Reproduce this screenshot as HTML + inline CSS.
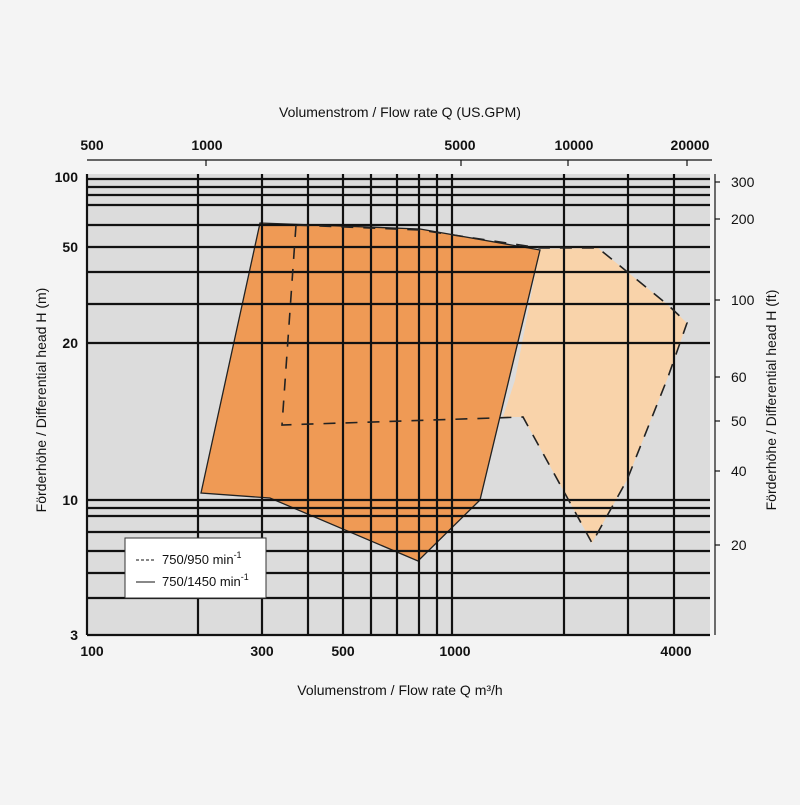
<!DOCTYPE html><html><head><style>body{margin:0;background:#f4f4f4}</style></head><body>
<svg width="800" height="800" xmlns="http://www.w3.org/2000/svg" font-family="Liberation Sans, sans-serif">
<rect width="800" height="800" fill="#f4f4f4"/>
<rect x="87" y="174" width="623" height="461" fill="#dcdcdc"/>
<polygon points="540,249 598,248 668,305 687,323 668,377 627,480 592,543 562,488 523,417 503,417 515,380" fill="#f9d3aa"/>
<polygon points="260,223 420,229 540,250 480,500 418,561 270,498 201,493" fill="#ef9a55" stroke="#222" stroke-width="1.3"/>
<g stroke="#111" stroke-width="2.2">
<line x1="198" y1="174" x2="198" y2="635"/><line x1="262" y1="174" x2="262" y2="635"/><line x1="308" y1="174" x2="308" y2="635"/><line x1="343" y1="174" x2="343" y2="635"/><line x1="371" y1="174" x2="371" y2="635"/><line x1="397" y1="174" x2="397" y2="635"/><line x1="419" y1="174" x2="419" y2="635"/><line x1="437" y1="174" x2="437" y2="635"/><line x1="452" y1="174" x2="452" y2="635"/><line x1="564" y1="174" x2="564" y2="635"/><line x1="628" y1="174" x2="628" y2="635"/><line x1="674" y1="174" x2="674" y2="635"/>
<line x1="87" y1="179" x2="710" y2="179"/><line x1="87" y1="187" x2="710" y2="187"/><line x1="87" y1="195" x2="710" y2="195"/><line x1="87" y1="205" x2="710" y2="205"/><line x1="87" y1="225" x2="710" y2="225"/><line x1="87" y1="247" x2="710" y2="247"/><line x1="87" y1="272" x2="710" y2="272"/><line x1="87" y1="304" x2="710" y2="304"/><line x1="87" y1="343" x2="710" y2="343"/><line x1="87" y1="500" x2="710" y2="500"/><line x1="87" y1="508" x2="710" y2="508"/><line x1="87" y1="516" x2="710" y2="516"/><line x1="87" y1="532" x2="710" y2="532"/><line x1="87" y1="551" x2="710" y2="551"/><line x1="87" y1="573" x2="710" y2="573"/><line x1="87" y1="598" x2="710" y2="598"/>
<line x1="87" y1="635" x2="710" y2="635"/><line x1="87" y1="174" x2="87" y2="635"/>
</g>
<polyline points="296,225 282,425 523,417 562,488 592,543 627,480 668,377 687,323 668,305 598,248 540,248 420,230 296,225" fill="none" stroke="#222" stroke-width="1.6" stroke-dasharray="12,10"/>
<g stroke="#111" stroke-width="1.2">
<line x1="87" y1="160" x2="712" y2="160"/>
<line x1="206" y1="160" x2="206" y2="166"/><line x1="461" y1="160" x2="461" y2="166"/><line x1="568" y1="160" x2="568" y2="166"/><line x1="687" y1="160" x2="687" y2="166"/>
<line x1="715" y1="174" x2="715" y2="635"/>
<line x1="715" y1="182" x2="720" y2="182"/><line x1="715" y1="219" x2="720" y2="219"/><line x1="715" y1="300" x2="720" y2="300"/><line x1="715" y1="377" x2="720" y2="377"/><line x1="715" y1="421" x2="720" y2="421"/><line x1="715" y1="471" x2="720" y2="471"/><line x1="715" y1="545" x2="720" y2="545"/>
</g>
<g font-size="14" fill="#111">
<text x="400" y="117" text-anchor="middle">Volumenstrom / Flow rate Q (US.GPM)</text>
<text x="400" y="695" text-anchor="middle">Volumenstrom / Flow rate Q m³/h</text>
<g font-weight="bold" text-anchor="middle"><text x="92" y="150">500</text><text x="207" y="150">1000</text><text x="460" y="150">5000</text><text x="574" y="150">10000</text><text x="690" y="150">20000</text>
<text x="92" y="656">100</text><text x="262" y="656">300</text><text x="343" y="656">500</text><text x="455" y="656">1000</text><text x="676" y="656">4000</text></g>
<g font-weight="bold" text-anchor="end"><text x="78" y="182">100</text><text x="78" y="252">50</text><text x="78" y="348">20</text><text x="78" y="505">10</text><text x="78" y="640">3</text></g>
<g text-anchor="start"><text x="731" y="187">300</text><text x="731" y="224">200</text><text x="731" y="305">100</text><text x="731" y="382">60</text><text x="731" y="426">50</text><text x="731" y="476">40</text><text x="731" y="550">20</text></g>
<text transform="translate(46,400) rotate(-90)" text-anchor="middle">Förderhöhe / Differential head H (m)</text>
<text transform="translate(776,400) rotate(-90)" text-anchor="middle">Förderhöhe / Differential head H (ft)</text>
</g>
<rect x="125" y="538" width="141" height="60" fill="#fff" stroke="#333" stroke-width="1"/>
<line x1="136" y1="560" x2="155" y2="560" stroke="#111" stroke-dasharray="3,2"/>
<line x1="136" y1="582" x2="155" y2="582" stroke="#111"/>
<g font-size="13" fill="#111"><text x="162" y="564">750/950 min<tspan dy="-6" font-size="9">-1</tspan></text>
<text x="162" y="586">750/1450 min<tspan dy="-6" font-size="9">-1</tspan></text></g>
</svg></body></html>
